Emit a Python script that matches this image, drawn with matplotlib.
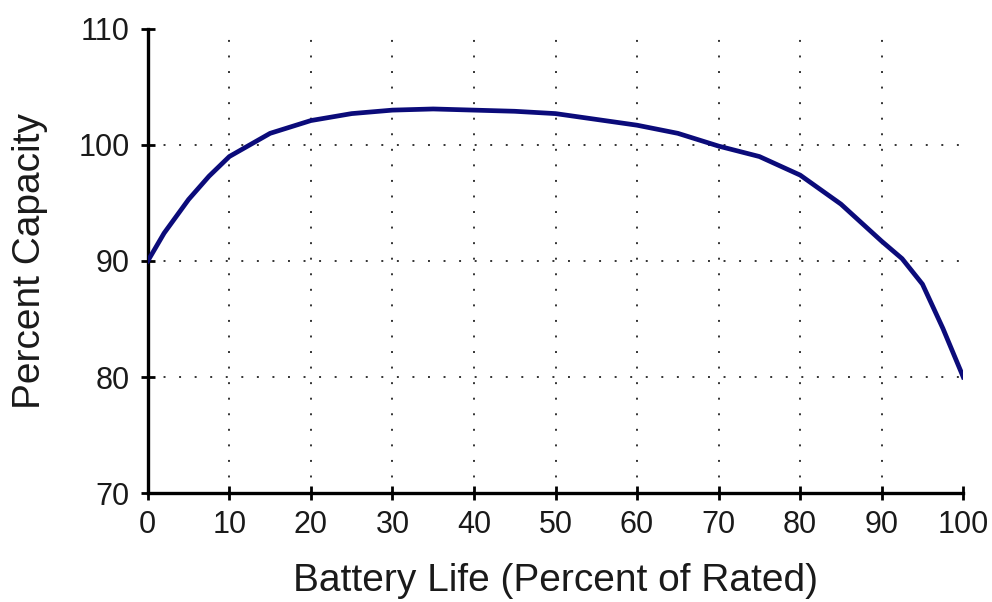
import numpy as np
import matplotlib.pyplot as plt

plt.rc('font', family='Liberation Sans')

life = [0, 2, 5, 7.5, 10, 15, 20, 25, 30, 35, 40, 45, 50, 55, 60, 65, 70,
        75, 80, 85, 90, 92.5, 95, 97.5, 100]
capacity = [90.0, 92.4, 95.3, 97.3, 99.0, 101.0, 102.1, 102.7, 103.0, 103.1,
            103.0, 102.9, 102.7, 102.2, 101.7, 101.0, 99.9, 99.0, 97.4, 94.9,
            91.7, 90.2, 88.0, 84.2, 80.0]

xticks = list(range(0, 101, 10))
yticks = [70, 80, 90, 100, 110]

fig = plt.figure(figsize=(9.92, 6.02), dpi=100)
ax = fig.add_axes([0.149, 0.181, 0.822, 0.771])

# dotted grid, no line at the axis limits
for xv in xticks[1:-1]:
    ax.plot([xv, xv], [70, 110], color='#333333', lw=1.4, ls=(0, (1, 7)), zorder=1)
for yv in yticks[1:-1]:
    ax.plot([0, 100], [yv, yv], color='#333333', lw=1.4, ls=(0, (1, 7)), zorder=1)

ax.plot(life, capacity, color='#0b0b7a', lw=3.4, zorder=3,
        solid_joinstyle='round')

ax.set_xlim(0, 100)
ax.set_ylim(70, 110)
ax.set_xticks(xticks)
ax.set_yticks(yticks)
ax.spines['top'].set_visible(False)
ax.spines['right'].set_visible(False)
ax.spines['left'].set_linewidth(2.4)
ax.spines['bottom'].set_linewidth(2.4)
ax.tick_params(direction='inout', length=10, width=2, labelsize=22,
               labelcolor='#1a1a1a')
ax.tick_params(axis='x', pad=7)
ax.tick_params(axis='y', pad=8)

ax.set_xlabel('Battery Life (Percent of Rated)', fontsize=28, labelpad=17,
              color='#1a1a1a')
ax.set_ylabel('Percent Capacity', fontsize=28, labelpad=22, color='#1a1a1a')

fig.savefig('out.png', dpi=100)
